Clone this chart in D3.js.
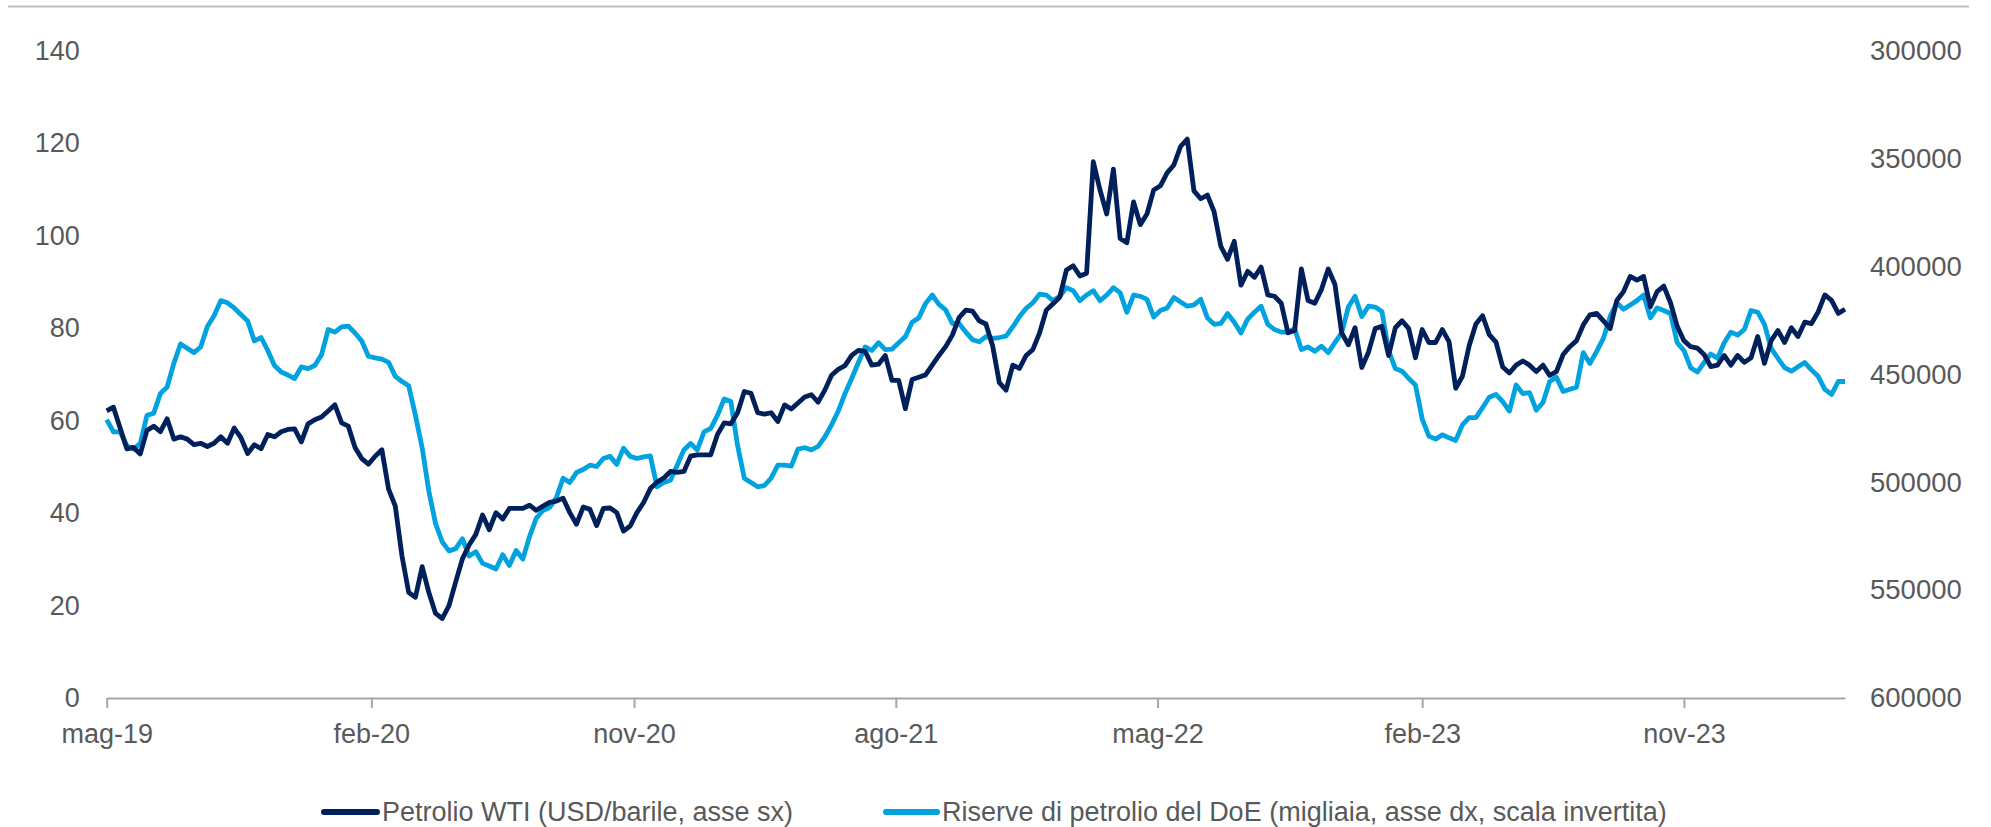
<!DOCTYPE html>
<html><head><meta charset="utf-8">
<script src="https://cdn.jsdelivr.net/npm/d3@7"></script>
<style>body{margin:0;background:#fff} svg{display:block}</style>
</head><body><svg id="c" width="1991" height="827"></svg>
<script>
// ---------------- DATA ----------------
const startDate = "2019-05-03"; // first weekly observation
const seriesNames = [
  "Petrolio WTI (USD/barile, asse sx)",
  "Riserve di petrolio del DoE (migliaia, asse dx, scala invertita)"
];
const wti = [
  62.1, 62.9, 58.4, 53.9, 54.2, 52.8, 57.9, 58.8, 57.6, 60.4,
  56.0, 56.5, 56.0, 54.8, 55.1, 54.4, 55.1, 56.5, 55.1, 58.4,
  56.3, 52.9, 54.8, 53.9, 57.0, 56.5, 57.6, 58.1, 58.2, 55.4,
  59.3, 60.2, 60.8, 62.1, 63.4, 59.5, 58.8, 54.2, 51.8, 50.6,
  52.3, 53.7, 45.2, 41.5, 30.7, 22.8, 21.8, 28.4, 22.8, 18.3,
  17.2, 20.0, 25.1, 30.1, 33.1, 35.4, 39.6, 36.4, 40.1, 38.7,
  41.0, 41.0, 41.0, 41.7, 40.6, 41.5, 42.3, 42.6, 43.2, 40.1,
  37.6, 41.3, 40.8, 37.3, 41.0, 41.1, 40.1, 36.1, 37.2, 40.1,
  42.3, 45.3, 46.7, 47.6, 49.0, 48.8, 49.0, 52.3, 52.6, 52.6,
  52.6, 57.0, 59.5, 59.3, 61.7, 66.3, 65.9, 61.7, 61.4, 61.7,
  59.8, 63.4, 62.5, 63.8, 65.1, 65.6, 64.0, 66.6, 69.8, 71.1,
  71.9, 74.1, 75.2, 75.0, 72.0, 72.2, 74.1, 68.7, 68.7, 62.6,
  68.9, 69.4, 69.9, 72.0, 74.1, 76.0, 78.5, 82.3, 83.9, 83.7,
  81.6, 80.9, 76.2, 68.2, 66.6, 72.0, 71.3, 74.1, 75.4, 79.0,
  83.9, 85.3, 86.7, 92.6, 93.5, 91.3, 91.9, 116.0, 109.9, 104.7,
  114.4, 99.4, 98.5, 107.3, 102.4, 104.7, 109.9, 110.8, 113.6, 115.3,
  119.3, 120.9, 109.7, 108.0, 108.8, 105.2, 97.7, 94.9, 98.8, 89.3,
  92.3, 91.0, 93.2, 87.2, 86.9, 85.4, 79.0, 79.5, 92.8, 86.0,
  85.4, 88.4, 92.8, 89.5, 79.0, 76.4, 80.1, 71.5, 74.8, 79.9,
  80.4, 74.1, 80.1, 81.6, 79.9, 73.6, 79.7, 76.9, 76.9, 79.7,
  77.1, 67.0, 69.6, 76.2, 80.9, 82.7, 78.6, 77.0, 71.6, 70.3,
  72.0, 72.9, 72.0, 70.6, 72.0, 69.8, 70.6, 74.3, 76.0, 77.3,
  80.7, 82.9, 83.2, 81.6, 79.9, 86.0, 87.9, 91.2, 90.4, 91.2,
  84.6, 87.9, 89.1, 85.5, 80.4, 77.3, 76.0, 75.7, 74.3, 71.7,
  72.0, 74.1, 72.0, 74.1, 72.6, 73.6, 78.2, 72.4, 77.3, 79.5,
  76.9, 80.1, 78.2, 81.3, 81.0, 83.5, 87.2, 86.0, 83.2, 84.1
];
const reserves = [
  471000, 476600, 476600, 483000, 484600, 482000, 469000, 468000, 458900, 455900,
  444900, 435900, 437900, 439900, 437300, 427800, 422800, 415800, 416800, 419200,
  422200, 425200, 434500, 432900, 438900, 445900, 448900, 450300, 451900, 446500,
  447300, 445900, 440900, 429200, 430400, 428000, 427600, 430800, 434500, 441600,
  442300, 442900, 444400, 450900, 453300, 455300, 469000, 484000, 504100, 519200,
  527600, 531800, 530800, 526200, 534200, 532200, 537600, 538800, 540200, 533600,
  538600, 531600, 535600, 525200, 516700, 513100, 511700, 507100, 498100, 500100,
  495500, 494100, 492100, 492700, 489000, 488000, 491700, 484200, 488000, 489000,
  488200, 487800, 502100, 500100, 499100, 492100, 485000, 482000, 485000, 476600,
  475000, 469000, 461400, 462600, 483000, 498100, 500100, 502100, 501500, 498100,
  492100, 492100, 492500, 484600, 484000, 485000, 483400, 479000, 473400, 467000,
  458900, 451900, 444500, 437300, 438900, 435300, 438500, 438300, 435300, 432500,
  425800, 423800, 417200, 413200, 417500, 420100, 426400, 426400, 430400, 433900,
  434900, 432500, 433300, 432900, 432300, 428000, 423200, 419400, 416800, 412800,
  413200, 415800, 413800, 409800, 411200, 415800, 413200, 411200, 415800, 413200,
  409800, 412200, 421200, 413200, 413800, 415200, 423400, 420400, 419200, 414400,
  416400, 418400, 417800, 415200, 423800, 426800, 426400, 421800, 425800, 430800,
  424400, 421200, 418400, 426800, 429200, 430400, 430400, 428800, 438500, 437300,
  439300, 436900, 439900, 435300, 430800, 418800, 413800, 423200, 418400, 418800,
  420800, 438900, 447300, 448500, 451900, 454900, 470600, 478600, 480000, 478000,
  479400, 480600, 473400, 470000, 470000, 465400, 460600, 459300, 462600, 467000,
  454900, 458900, 458500, 466600, 463000, 453300, 451300, 457900, 456900, 455900,
  439900, 444900, 439300, 433300, 423200, 416800, 419800, 417800, 415800, 413200,
  423800, 419200, 420400, 421800, 435300, 438900, 446900, 448900, 444500, 440500,
  442500, 435300, 430400, 431800, 429200, 420400, 421200, 426800, 437900, 442500,
  446900, 448500, 446500, 444500, 447900, 450900, 456900, 459300, 453300, 453300
];
const leftTicks = [0, 20, 40, 60, 80, 100, 120, 140];
const rightTicks = [300000, 350000, 400000, 450000, 500000, 550000, 600000];
const xTickMonthOffsets = [0, 9, 18, 27, 36, 45, 54];
const itShortMonths = ["gen","feb","mar","apr","mag","giu","lug","ago","set","ott","nov","dic"];

// ---------------- CHART ----------------
const W = 1991, H = 827;
const plot = {left: 106.7, right: 1845, top: 50.8, bottom: 698};
const colDark = "#00205B", colLight = "#00A3E0", textCol = "#595959";
const font = "'Liberation Sans', Arial, sans-serif";

const t0 = d3.timeParse("%Y-%m-%d")(startDate);
const dates = wti.map((_, i) => d3.timeDay.offset(t0, 7 * i));
const dataDark = dates.map((d, i) => ({d, v: wti[i]}));
const dataLight = dates.map((d, i) => ({d, v: reserves[i]}));

const x = d3.scaleTime().domain([dates[0], dates[dates.length - 1]]).range([plot.left, plot.right]);
const yL = d3.scaleLinear().domain([0, 140]).range([plot.bottom, plot.top]);
const yR = d3.scaleLinear().domain([300000, 600000]).range([plot.top, plot.bottom]); // inverted

const locale = d3.timeFormatLocale({
  dateTime: "%A %e %B %Y, %X", date: "%d/%m/%Y", time: "%H:%M:%S",
  periods: ["AM", "PM"],
  days: ["domenica","lunedì","martedì","mercoledì","giovedì","venerdì","sabato"],
  shortDays: ["dom","lun","mar","mer","gio","ven","sab"],
  months: ["gennaio","febbraio","marzo","aprile","maggio","giugno","luglio","agosto","settembre","ottobre","novembre","dicembre"],
  shortMonths: itShortMonths
});
const fmtX = locale.format("%b-%y");

const svg = d3.select("#c");
svg.append("rect").attr("width", W).attr("height", H).attr("fill", "#fff");

// top border line
svg.append("line").attr("x1", 8).attr("x2", 1969).attr("y1", 6.5).attr("y2", 6.5)
  .attr("stroke", "#bfbfbf").attr("stroke-width", 2);

// x axis
const xTicks = xTickMonthOffsets.map(m => d3.timeMonth.offset(t0, m));
const gx = svg.append("g").attr("transform", `translate(0,${plot.bottom})`)
  .call(d3.axisBottom(x).tickValues(xTicks).tickFormat(fmtX).tickSize(10).tickSizeOuter(0).tickPadding(16));
gx.select(".domain").attr("stroke", "#a6a6a6").attr("stroke-width", 2.2);
gx.selectAll(".tick line").attr("stroke", "#a6a6a6").attr("stroke-width", 2);
gx.selectAll("text").attr("fill", textCol).style("font-family", font).style("font-size", "27px");

// left axis
const gl = svg.append("g").attr("transform", `translate(${plot.left},0)`)
  .call(d3.axisLeft(yL).tickValues(leftTicks).tickSize(0).tickPadding(27));
gl.select(".domain").remove();
gl.selectAll("text").attr("fill", textCol).style("font-family", font).style("font-size", "27px");

// right axis
const gr = svg.append("g").attr("transform", `translate(${plot.right},0)`)
  .call(d3.axisRight(yR).tickValues(rightTicks).tickFormat(d3.format("d")).tickSize(0).tickPadding(25));
gr.select(".domain").remove();
gr.selectAll("text").attr("fill", textCol).style("font-family", font).style("font-size", "27.5px");

// lines
const lineDark = d3.line().x(d => x(d.d)).y(d => yL(d.v));
const lineLight = d3.line().x(d => x(d.d)).y(d => yR(d.v));
svg.append("path").datum(dataLight).attr("d", lineLight).attr("fill", "none")
  .attr("stroke", colLight).attr("stroke-width", 4.8).attr("stroke-linejoin", "round");
svg.append("path").datum(dataDark).attr("d", lineDark).attr("fill", "none")
  .attr("stroke", colDark).attr("stroke-width", 4.8).attr("stroke-linejoin", "round");

// legend
const legendItems = [
  {name: seriesNames[0], color: colDark, x0: 324, x1: 377, tx: 382},
  {name: seriesNames[1], color: colLight, x0: 886, x1: 937, tx: 942}
];
const ly = 812;
const lg = svg.append("g");
legendItems.forEach(it => {
  lg.append("line").attr("x1", it.x0).attr("x2", it.x1).attr("y1", ly).attr("y2", ly)
    .attr("stroke", it.color).attr("stroke-width", 6).attr("stroke-linecap", "round");
  lg.append("text").attr("x", it.tx).attr("y", ly).attr("dy", "0.35em")
    .attr("fill", textCol).style("font-family", font).style("font-size", "27px").text(it.name);
});
</script>
</body></html>
